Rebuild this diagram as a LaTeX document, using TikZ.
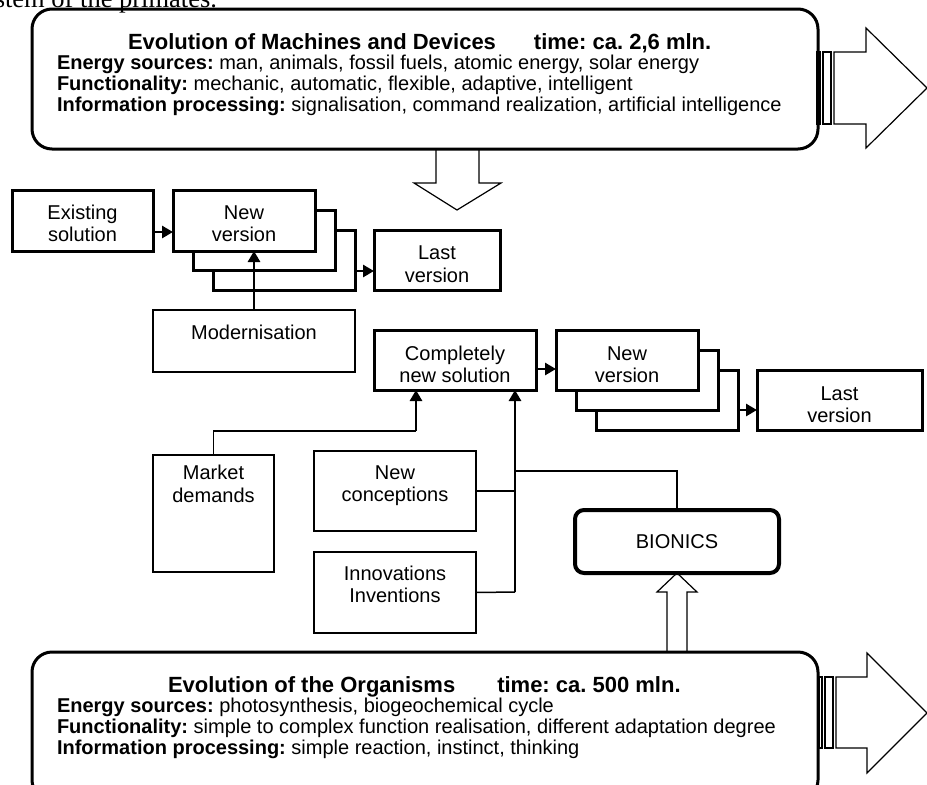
\documentclass[tikz,border=0pt]{standalone}
\usepackage{fontspec}
\setmainfont{Liberation Sans}
\newfontfamily\cutserif{Liberation Serif}
\usetikzlibrary{arrows.meta}
\newcommand\boxfont{\fontsize{20}{22.5}\selectfont}
\newcommand\bodyfont{\fontsize{20}{21}\selectfont}
\newcommand\titlefont{\fontsize{22}{25}\selectfont\bfseries}
\frenchspacing
\begin{document}
\frenchspacing
\begin{tikzpicture}[x=1pt,y=-1pt,
  every node/.style={inner sep=0pt, outer sep=0pt},
  heavybox/.style={draw, line width=3pt, fill=white},
  lightbox/.style={draw, line width=1.6pt, fill=white},
  conn/.style={line width=2.8pt, -{Triangle[length=11pt,width=12pt]}},
  lightline/.style={line width=1.5pt},
  blockarrow/.style={draw, line width=1.2pt, fill=white, line join=miter},
  bigbox/.style={draw, line width=3pt, rounded corners=20pt},
  boxtext/.style={font=\boxfont, align=center},
  bodytext/.style={font=\bodyfont, anchor=base west},
  titletext/.style={font=\titlefont, anchor=base west}
]
\useasboundingbox (0,0) rectangle (927,785);
\clip (0,0) rectangle (927,785);

% cut-off caption above the figure
\node[anchor=base east, font=\cutserif\fontsize{26.5}{30}\selectfont] (cap) at (217,7) {stem of the primates.};

% block arrows
\draw[blockarrow] (436,150) -- (436,183) -- (414,183) -- (457,210) -- (501,183) -- (479,183) -- (479,150);
\draw[blockarrow] (667,652) -- (667,592) -- (657,592) -- (677,573) -- (697,592) -- (687,592) -- (687,652);

% striped right arrows
\draw[blockarrow] (817,52) rectangle (820,124);
\draw[blockarrow] (823,52) rectangle (831,124);
\draw[blockarrow] (834,52) -- (866,52) -- (866,28) -- (927,88) -- (866,148) -- (866,124) -- (834,124) -- cycle;
\draw[blockarrow] (819,677) rectangle (822,748);
\draw[blockarrow] (825,677) rectangle (833,748);
\draw[blockarrow] (836,677) -- (867,677) -- (867,653) -- (927,713) -- (867,773) -- (867,748) -- (836,748) -- cycle;

% big boxes
\node[bigbox, minimum width=786pt, minimum height=140pt] (topbox) at (425,79) {};
\node[bigbox, minimum width=786pt, minimum height=148pt] (botbox) at (425,726) {};

% top box text
\node[titletext] (ttitle) at (128,49) {Evolution of Machines and Devices\hspace{38pt}time: ca. 2,6 mln.};
\node[bodytext] (tl1) at (57,69) {\textbf{Energy sources:} man, animals, fossil fuels, atomic energy, solar energy};
\node[bodytext] (tl2) at (57,90) {\textbf{Functionality:} mechanic, automatic, flexible, adaptive, intelligent};
\node[bodytext] (tl3) at (57,111) {\textbf{Information processing:} signalisation, command realization, artificial intelligence};

% bottom box text
\node[titletext] (btitle) at (168,692) {Evolution of the Organisms\hspace{42pt}time: ca. 500 mln.};
\node[bodytext] (bl1) at (57,712) {\textbf{Energy sources:} photosynthesis, biogeochemical cycle};
\node[bodytext] (bl2) at (57,733) {\textbf{Functionality:} simple to complex function realisation, different adaptation degree};
\node[bodytext] (bl3) at (57,754) {\textbf{Information processing:} simple reaction, instinct, thinking};

% first development line
\node[heavybox, minimum width=141pt, minimum height=61pt] (ex) at (82.5,220.5) {};
\node[boxtext] (ext) at ([yshift=-3pt]ex.center) {Existing\\solution};
\node[heavybox, minimum width=142pt, minimum height=60pt] (nv1c) at (284,260) {};
\node[heavybox, minimum width=142pt, minimum height=60pt] (nv1b) at (264,240) {};
\node[heavybox, minimum width=142pt, minimum height=61pt] (nv1a) at (244,220.5) {};
\node[boxtext] (nv1t) at ([yshift=-3pt]nv1a.center) {New\\version};
\node[heavybox, minimum width=126pt, minimum height=60pt] (lv1) at (437,260) {};
\node[boxtext] (lv1t) at ([yshift=-4pt]lv1.center) {Last\\version};
\node[lightbox, minimum width=202pt, minimum height=62pt] (mod) at (254,341) {};
\node[boxtext, anchor=base] (modt) at (254,339) {Modernisation};

\draw[conn] ([yshift=-11.5pt]ex.east) -- ([yshift=-11.5pt]nv1a.west);
\draw[conn] ([yshift=-11pt]nv1c.east) -- ([yshift=-11pt]lv1.west);
\draw[conn] (mod.north) -- (mod.north |- nv1a.south);

% second development line
\node[heavybox, minimum width=162pt, minimum height=60pt] (cns) at (455,360) {};
\node[boxtext] (cnst) at ([yshift=-4.5pt]cns.center) {Completely\\new solution};
\node[heavybox, minimum width=142pt, minimum height=60pt] (nv2c) at (667,400) {};
\node[heavybox, minimum width=142pt, minimum height=60pt] (nv2b) at (647,380) {};
\node[heavybox, minimum width=142pt, minimum height=60pt] (nv2a) at (627,360) {};
\node[boxtext] (nv2t) at ([yshift=-4.5pt]nv2a.center) {New\\version};
\node[heavybox, minimum width=165pt, minimum height=60pt] (lv2) at (839.5,400) {};
\node[boxtext] (lv2t) at ([yshift=-4.5pt]lv2.center) {Last\\version};

\draw[conn] ([yshift=-9pt]cns.east) -- ([yshift=-9pt]nv2a.west);
\draw[conn] ([yshift=-10pt]nv2c.east) -- ([yshift=-10pt]lv2.west);

% sources
\node[lightbox, minimum width=121pt, minimum height=117pt] (mkt) at (213.5,513.5) {};
\node[boxtext, anchor=north] (mktt) at (213.5,465.5) {Market\\demands};
\node[lightbox, minimum width=162pt, minimum height=80pt] (nco) at (395,491) {};
\node[boxtext, anchor=north] (ncot) at (395,465.5) {New\\conceptions};
\node[lightbox, minimum width=162pt, minimum height=81pt] (inn) at (395,592.5) {};
\node[boxtext, anchor=north] (innt) at (395,565.5) {Innovations\\Inventions};
\node[draw, line width=4pt, rounded corners=9pt, minimum width=204pt, minimum height=63pt, font=\boxfont] (bio) at (677,541.5) {BIONICS};

\coordinate (m1) at (416,431);
\coordinate (j1) at (515,592);
\coordinate (j2) at (515,471);
\draw[lightline] (mkt.north) |- (m1);
\draw[conn] (m1) -- (m1 |- cns.south);
\draw[conn] (j1) -- (j1 |- cns.south);
\draw[lightline] (nco.east) -- (nco.east -| j1);
\draw[lightline] (inn.east) -- (j1);
\draw[lightline] (bio.north) |- (j2);
\end{tikzpicture}
\end{document}
